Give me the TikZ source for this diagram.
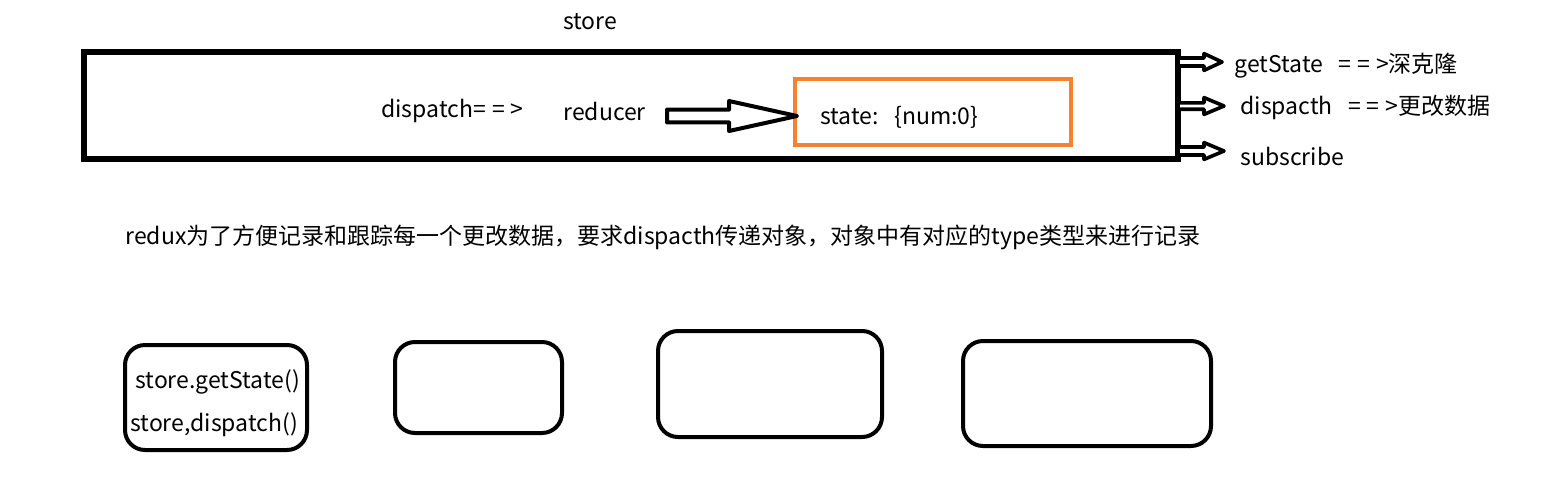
\documentclass[tikz,border=0pt]{standalone}
\usepackage{fontspec}
\setmainfont{Noto Sans CJK SC}
\usetikzlibrary{calc}
\newcommand\eqarr{=\kern3pt=\kern3pt>}
\begin{document}
\begin{tikzpicture}[x=0.5pt,y=-0.5pt,
  txt/.style={inner sep=0pt,font=\fontsize{11.5pt}{13pt}\selectfont},
  bigbox/.style={draw,line width=2.6pt},
  statebox/.style={draw=orangeline,line width=2pt},
  rbox/.style={draw,line width=2pt,rounded corners=10pt},
  arrowline/.style={draw,fill=white,line width=2pt,line join=round},
  blockarrow/.style n args={3}{to path={let \p1=(\tikztostart), \p2=(\tikztotarget) in
    (\x1,{\y1+#1}) -- ({\x2-#3},{\y1+#1}) -- ({\x2-#3},{\y1+#2}) -- (\x2,\y1)
    -- ({\x2-#3},{\y1-#2}) -- ({\x2-#3},{\y1-#1}) -- (\x1,{\y1-#1}) -- cycle}}]
\definecolor{orangeline}{RGB}{245,130,50}
\useasboundingbox (0,0) rectangle (1556,477);
% store
\node[txt] (storelbl) at (590,22) {store};
\draw[bigbox] (84,52) rectangle (1178,159);
\coordinate (boxtop) at (1178,62);
\coordinate (boxmid) at (1178,106);
\coordinate (boxbot) at (1178,151);
\node[txt,anchor=west] (disp) at (381,111) {dispatch\eqarr};
\node[txt,anchor=west] (red) at (563,111) {reducer};
\draw[statebox] (795,79) rectangle (1071,145);
\node[txt,anchor=west] (state) at (820,117) {state:\ \ \ \{num:0\}};
\coordinate (arrS) at (667,116);
\coordinate (arrE) at (797,116);
\draw[arrowline] (arrS) to[blockarrow={3.2pt}{7.5pt}{34pt}] (arrE);
% right side arrows
\coordinate (t1) at (1222,62);
\coordinate (t2) at (1224,106);
\coordinate (t3) at (1224,151);
\draw[arrowline,line width=1.8pt] (boxtop) to[blockarrow={2pt}{4.2pt}{9pt}] (t1);
\draw[arrowline,line width=1.8pt] (boxmid) to[blockarrow={1.6pt}{4.2pt}{10pt}] (t2);
\draw[arrowline,line width=1.8pt] (boxbot) to[blockarrow={2pt}{4.2pt}{10pt}] (t3);
\node[txt,anchor=west] (gs) at (1234,66) {getState\ \ \ \eqarr 深克隆};
\node[txt,anchor=west] (dp) at (1240,107) {dispacth\ \ \ \eqarr 更改数据};
\node[txt,anchor=west] (sb) at (1240,156) {subscribe};
% sentence
\node[txt,anchor=west] (sent) at (125,237) {redux为了方便记录和跟踪每一个更改数据，要求dispacth传递对象，对象中有对应的type类型来进行记录};
% bottom boxes
\draw[rbox] (125,345) rectangle (307,450);
\node[txt,anchor=west] (gst) at (135,382) {store.getState()};
\node[txt,anchor=west] (dpt) at (130,425) {store,dispatch()};
\draw[rbox] (395,342) rectangle (562,433);
\draw[rbox] (658,331) rectangle (882,437);
\draw[rbox] (963,341) rectangle (1211,446);
\end{tikzpicture}
\end{document}
